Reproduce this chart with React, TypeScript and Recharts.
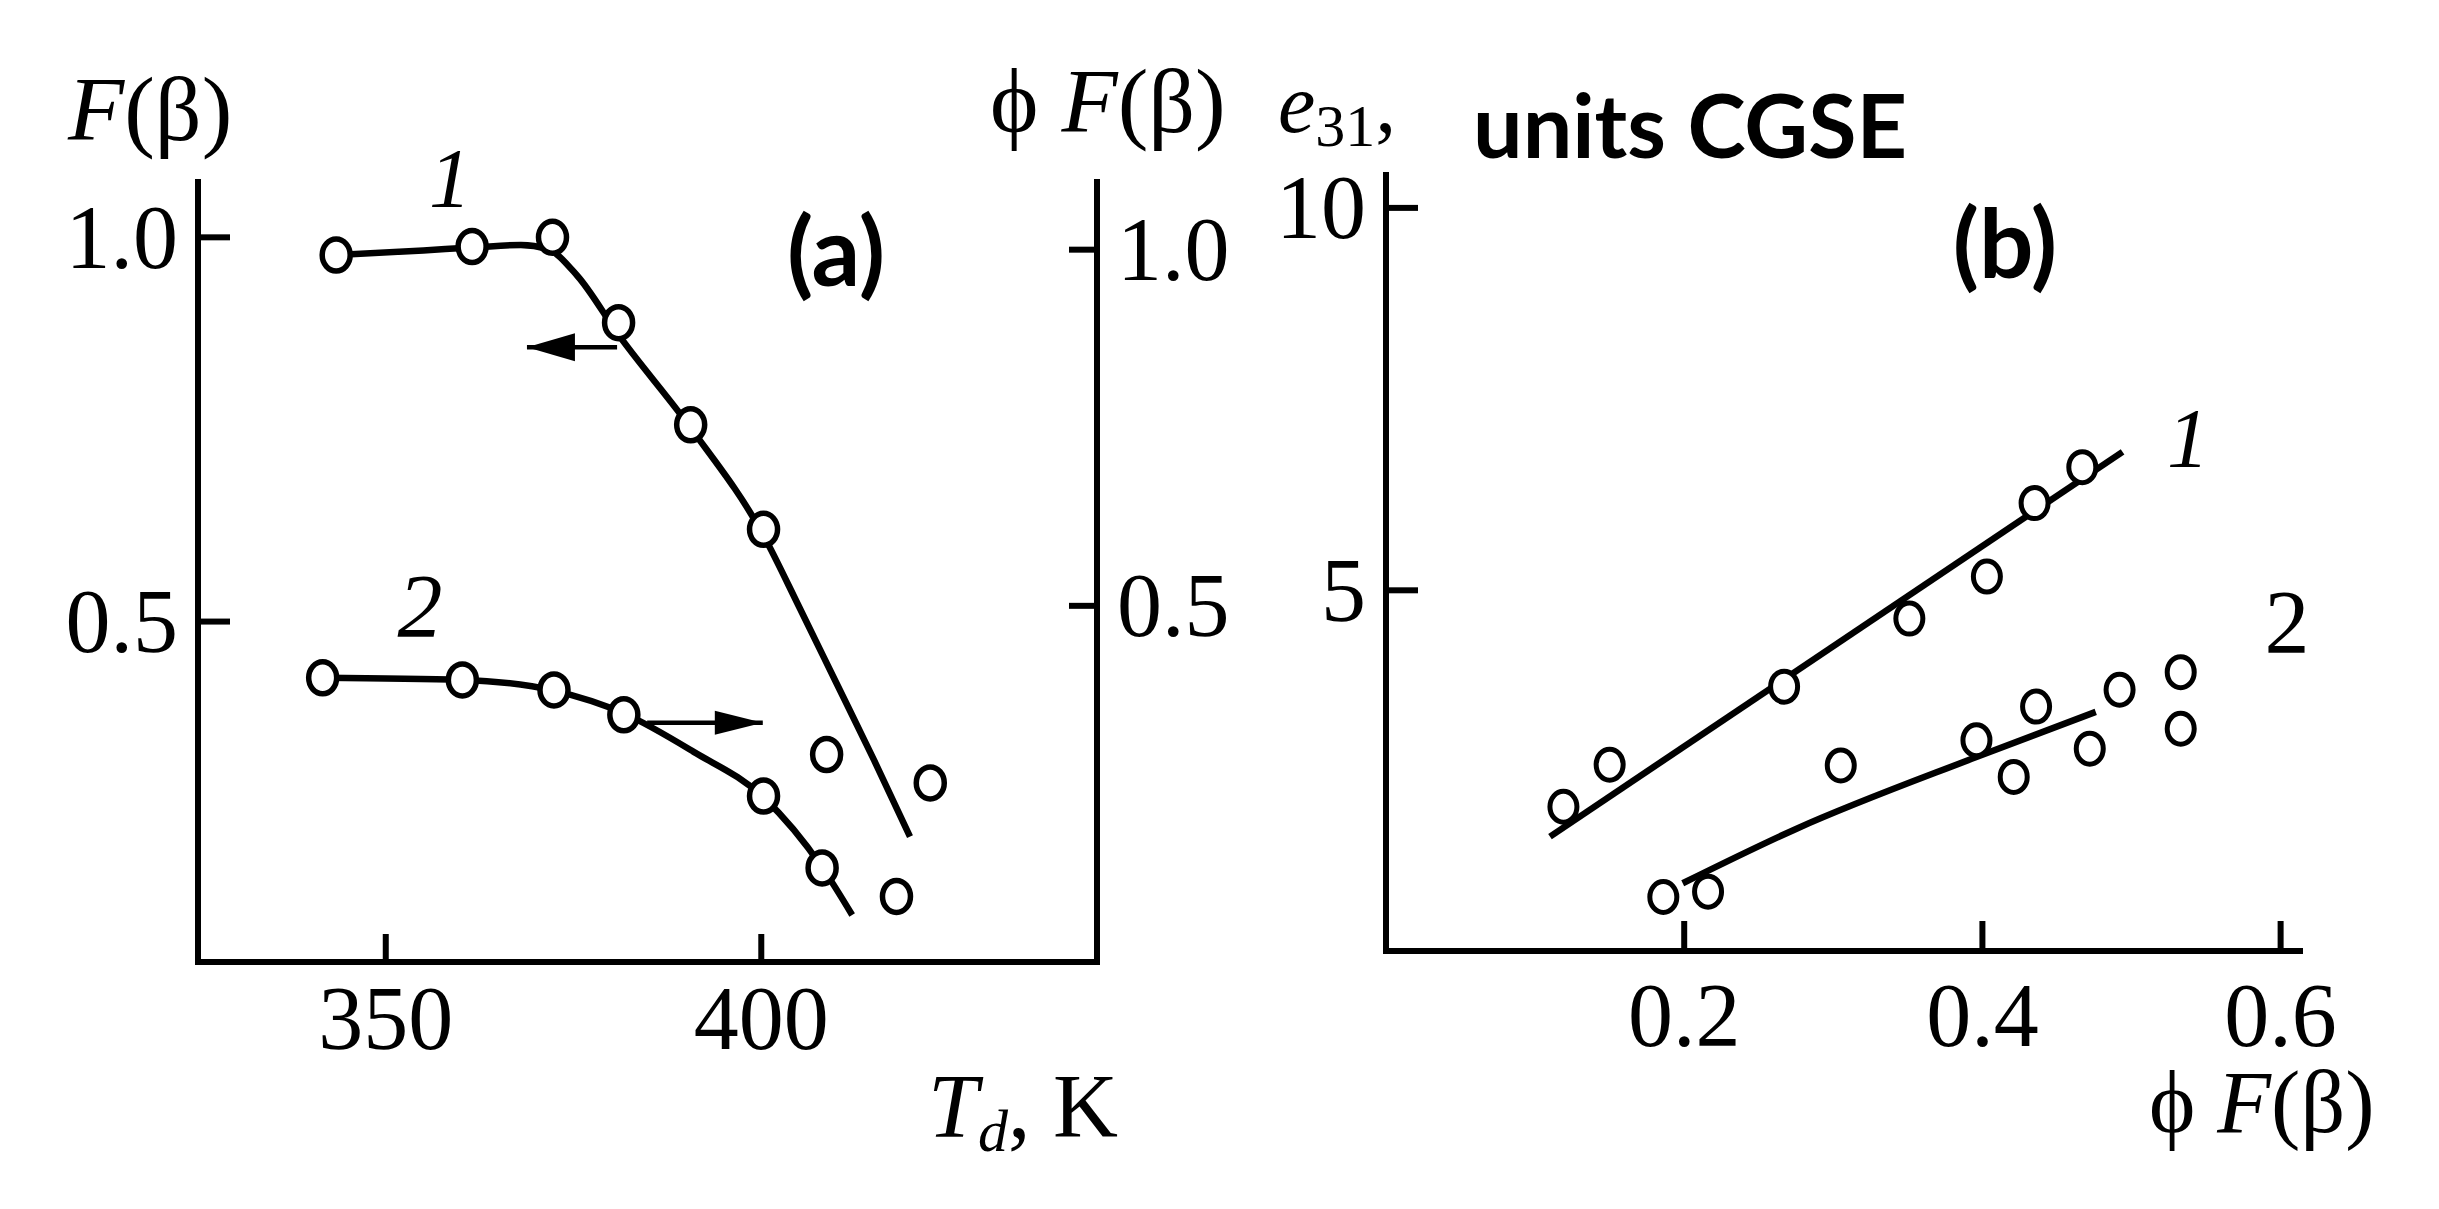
import React from "react";
import { ComposedChart, Line, Scatter, XAxis, YAxis, ReferenceDot } from "recharts";

// panel (a), curve 1: F(beta) vs T_d (left axis)
const tempA1 = [343.4, 361.5, 372.2, 381.0, 390.6, 400.3, 408.7, 422.5];
const valA1 = [0.977, 0.988, 1.0, 0.889, 0.756, 0.62, 0.327, 0.29];
const fitTempA1 = [343.4, 355, 362, 368, 371.5, 375.5, 381, 390.6, 400.3, 405, 410, 415, 419.8];
const fitValA1 = [0.977, 0.983, 0.987, 0.99, 0.985, 0.95, 0.873, 0.752, 0.612, 0.52, 0.42, 0.32, 0.22];

// panel (a), curve 2: phi F(beta) vs T_d (right axis)
const tempA2 = [341.6, 360.2, 372.4, 381.7, 400.3, 408.1, 418.0];
const valA2 = [0.399, 0.396, 0.382, 0.347, 0.233, 0.132, 0.092];
const fitTempA2 = [341.6, 360.2, 372.4, 381.7, 391, 400.3, 408.1, 412.1];
const fitValA2 = [0.399, 0.396, 0.381, 0.349, 0.295, 0.231, 0.133, 0.066];

// arrows in panel (a): [from, to] in T_d, at a fixed value
const arrowLeftT = [380.8, 368.8];
const arrowLeftVal = 0.857;
const arrowRightT = [384.8, 400.2];
const arrowRightVal = 0.336;

// panel (b): e31 vs phi F(beta)
const phiB1 = [0.119, 0.15, 0.267, 0.351, 0.403, 0.435, 0.467];
const e31B1 = [2.17, 2.72, 3.74, 4.63, 5.18, 6.14, 6.61];
const fitPhiB1 = [0.11, 0.494];
const fitE31B1 = [1.78, 6.81];
const phiB2 = [0.186, 0.216, 0.305, 0.396, 0.421, 0.436, 0.472, 0.492, 0.533, 0.533];
const e31B2 = [0.99, 1.06, 2.71, 3.04, 2.56, 3.48, 2.93, 3.7, 3.93, 3.19];
const fitPhiB2 = [0.199, 0.275, 0.396, 0.476];
const fitE31B2 = [1.17, 1.88, 2.82, 3.41];

const ticksTemp = [350, 400];
const ticksValA = [0.5, 1.0];
const ticksPhi = [0.2, 0.4, 0.6];
const ticksE31 = [5, 10];

const zip = (xs: number[], ys: number[]) => xs.map((x, i) => ({ x, y: ys[i] }));

const SERIF = "'Liberation Serif', 'Times New Roman', serif";
const SANS = "Lato, 'Open Sans', sans-serif";
const INK = "#000";
const AXIS_W = 6;
const CURVE_W = 6.5;
const TICK_FS = 90;

const axisLineStyle = { stroke: INK, strokeWidth: AXIS_W, strokeLinecap: "square" as const };

function ring(rx: number, ry: number, sw: number) {
  return (p: any) => (
    <ellipse cx={p.cx} cy={p.cy} rx={rx} ry={ry} fill="#fff" stroke={INK} strokeWidth={sw} />
  );
}

function leftTick(len: number, gap: number, fmt: (v: number) => string) {
  return (p: any) => (
    <g>
      <line x1={p.x} x2={p.x + len} y1={p.y} y2={p.y} stroke={INK} strokeWidth={AXIS_W} />
      <text x={p.x - gap} y={p.y} textAnchor="end" dominantBaseline="central" fontFamily={SERIF} fontSize={TICK_FS} fill={INK}>
        {fmt(p.payload.value)}
      </text>
    </g>
  );
}

function rightTick(len: number, gap: number, fmt: (v: number) => string) {
  return (p: any) => (
    <g>
      <line x1={p.x} x2={p.x - len} y1={p.y} y2={p.y} stroke={INK} strokeWidth={AXIS_W} />
      <text x={p.x + gap} y={p.y} textAnchor="start" dominantBaseline="central" fontFamily={SERIF} fontSize={TICK_FS} fill={INK}>
        {fmt(p.payload.value)}
      </text>
    </g>
  );
}

function bottomTick(len: number, base: number, fmt: (v: number) => string) {
  return (p: any) => (
    <g>
      <line x1={p.x} x2={p.x} y1={p.y} y2={p.y - len} stroke={INK} strokeWidth={AXIS_W} />
      <text x={p.x} y={p.y + base} textAnchor="middle" fontFamily={SERIF} fontSize={TICK_FS} fill={INK}>
        {fmt(p.payload.value)}
      </text>
    </g>
  );
}

const headLeft = (p: any) => (
  <polygon points={`${p.cx},${p.cy} ${p.cx + 48},${p.cy - 14} ${p.cx + 48},${p.cy + 14}`} fill={INK} />
);
const headRight = (p: any) => (
  <polygon points={`${p.cx},${p.cy} ${p.cx - 48},${p.cy - 12} ${p.cx - 48},${p.cy + 12}`} fill={INK} />
);

function PanelA() {
  return (
    <ComposedChart width={1237} height={1092} margin={{ top: 182, right: 0, bottom: 0, left: 38 }}>
      <XAxis
        type="number"
        dataKey="x"
        domain={[325, 444.7]}
        ticks={ticksTemp}
        interval={0}
        allowDataOverflow
        height={130}
        tickSize={0}
        tickMargin={0}
        tickLine={false}
        axisLine={axisLineStyle}
        tick={bottomTick(28, 87, (v) => String(v))}
      />
      <YAxis
        yAxisId="l"
        type="number"
        domain={[0.057, 1.072]}
        ticks={ticksValA}
        interval={0}
        allowDataOverflow
        width={160}
        tickSize={0}
        tickMargin={0}
        tickLine={false}
        axisLine={axisLineStyle}
        tick={leftTick(32, 20, (v) => v.toFixed(1))}
      />
      <YAxis
        yAxisId="r"
        orientation="right"
        type="number"
        domain={[0, 1.095]}
        ticks={ticksValA}
        interval={0}
        allowDataOverflow
        width={140}
        tickSize={0}
        tickMargin={0}
        tickLine={false}
        axisLine={axisLineStyle}
        tick={rightTick(28, 20, (v) => v.toFixed(1))}
      />
      <Line yAxisId="l" data={zip(fitTempA1, fitValA1)} dataKey="y" type="monotone" dot={false} stroke={INK} strokeWidth={CURVE_W} isAnimationActive={false} />
      <Line yAxisId="r" data={zip(fitTempA2, fitValA2)} dataKey="y" type="monotone" dot={false} stroke={INK} strokeWidth={CURVE_W} isAnimationActive={false} />
      <Line yAxisId="l" data={zip(arrowLeftT, [arrowLeftVal, arrowLeftVal])} dataKey="y" type="linear" dot={false} stroke={INK} strokeWidth={4.5} isAnimationActive={false} />
      <Line yAxisId="r" data={zip(arrowRightT, [arrowRightVal, arrowRightVal])} dataKey="y" type="linear" dot={false} stroke={INK} strokeWidth={4.5} isAnimationActive={false} />
      <ReferenceDot yAxisId="l" x={arrowLeftT[1]} y={arrowLeftVal} shape={headLeft} />
      <ReferenceDot yAxisId="r" x={arrowRightT[1]} y={arrowRightVal} shape={headRight} />
      <Scatter yAxisId="l" data={zip(tempA1, valA1)} dataKey="y" shape={ring(14, 16, 5.5)} isAnimationActive={false} />
      <Scatter yAxisId="r" data={zip(tempA2, valA2)} dataKey="y" shape={ring(14, 16, 5.5)} isAnimationActive={false} />
    </ComposedChart>
  );
}

function PanelB() {
  return (
    <ComposedChart width={1174} height={1081} margin={{ top: 175, right: 100, bottom: 0, left: 0 }}>
      <XAxis
        type="number"
        dataKey="x"
        domain={[0, 0.613]}
        ticks={ticksPhi}
        interval={0}
        allowDataOverflow
        height={130}
        tickSize={0}
        tickMargin={0}
        tickLine={false}
        axisLine={axisLineStyle}
        tick={bottomTick(30, 95, (v) => v.toFixed(1))}
      />
      <YAxis
        type="number"
        domain={[0.284, 10.43]}
        ticks={ticksE31}
        interval={0}
        allowDataOverflow
        width={160}
        tickSize={0}
        tickMargin={0}
        tickLine={false}
        axisLine={axisLineStyle}
        tick={leftTick(32, 20, (v) => String(v))}
      />
      <Line data={zip(fitPhiB1, fitE31B1)} dataKey="y" type="linear" dot={false} stroke={INK} strokeWidth={CURVE_W} isAnimationActive={false} />
      <Line data={zip(fitPhiB2, fitE31B2)} dataKey="y" type="monotone" dot={false} stroke={INK} strokeWidth={CURVE_W} isAnimationActive={false} />
      <Scatter data={zip(phiB1, e31B1)} dataKey="y" shape={ring(13.5, 15.5, 5)} isAnimationActive={false} />
      <Scatter data={zip(phiB2, e31B2)} dataKey="y" shape={ring(13.5, 15.5, 5)} isAnimationActive={false} />
    </ComposedChart>
  );
}

function Labels() {
  return (
    <svg width={2439} height={1209} style={{ position: "absolute", left: 0, top: 0, pointerEvents: "none" }}>
      <g fontFamily={SERIF} fill={INK}>
        <text x={68} y={140} fontSize={92}>
          <tspan fontStyle="italic">F</tspan>(β)
        </text>
        <text x={990} y={132} fontSize={92}>
          ϕ <tspan fontStyle="italic">F</tspan>(β)
        </text>
        <text x={1278} y={132} fontSize={84}>
          <tspan fontStyle="italic">e</tspan>
          <tspan fontSize={60} dy={14}>31</tspan>
          <tspan dy={-14}>,</tspan>
        </text>
        <text x={450} y={207} fontSize={84} fontStyle="italic" textAnchor="middle">1</text>
        <text x={420} y={637} fontSize={90} fontStyle="italic" textAnchor="middle">2</text>
        <text x={2188} y={467} fontSize={84} fontStyle="italic" textAnchor="middle">1</text>
        <text x={2287} y={653} fontSize={90} textAnchor="middle">2</text>
        <text x={928} y={1137} fontSize={90}>
          <tspan fontStyle="italic">T</tspan>
          <tspan fontStyle="italic" fontSize={60} dy={14}>d</tspan>
          <tspan dy={-14}>, K</tspan>
        </text>
        <text x={2149} y={1132} fontSize={88}>
          ϕ <tspan fontStyle="italic">F</tspan>(β)
        </text>
      </g>
      <g fontFamily={SANS} fontWeight={700} fill={INK}>
        <text x={1473} y={158} fontSize={88}>units CGSE</text>
        <text x={836} y={286} fontSize={96} textAnchor="middle">(a)</text>
        <text x={2005} y={278} fontSize={96} textAnchor="middle">(b)</text>
      </g>
    </svg>
  );
}

export default function App() {
  return (
    <div style={{ position: "absolute", left: 0, top: 0, width: 2439, height: 1209, background: "#fff", overflow: "hidden" }}>
      <div style={{ position: "absolute", left: 0, top: 0 }}>
        <PanelA />
      </div>
      <div style={{ position: "absolute", left: 1226, top: 0 }}>
        <PanelB />
      </div>
      <Labels />
    </div>
  );
}
